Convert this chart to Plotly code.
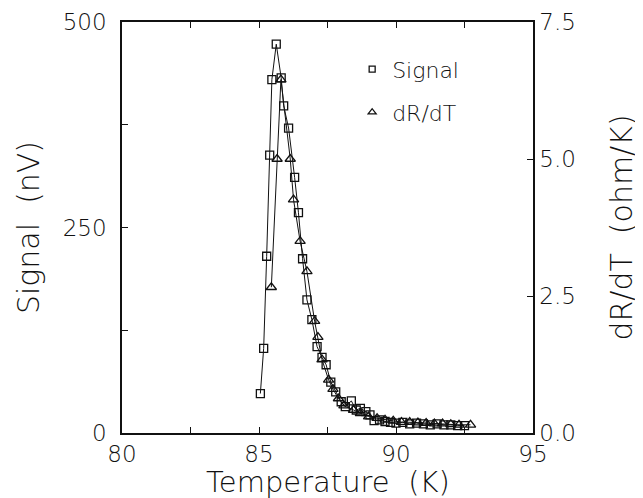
import plotly.graph_objects as go

# ---- data ----
temp_signal = [85.05, 85.17, 85.28, 85.39, 85.47, 85.63, 85.81, 85.90, 86.08, 86.30,
               86.44, 86.59, 86.75, 86.93, 87.12, 87.30, 87.45, 87.62, 87.80, 88.00,
               88.15, 88.37, 88.55, 88.70, 88.90, 89.05, 89.20, 89.40, 89.60, 89.80,
               90.00, 90.25, 90.50, 90.75, 91.00, 91.25, 91.50, 91.75, 92.00, 92.25, 92.50]
signal_nv = [48, 103, 215, 338, 430, 473, 432, 398, 371, 311,
             268, 212, 162, 138, 105, 92, 83, 62, 50, 38,
             32, 39, 28, 30, 26, 22, 15, 16, 14, 13,
             12, 13, 11, 12, 11, 10, 11, 10, 10, 9, 9]

temp_drdt = [85.45, 85.66, 85.80, 86.14, 86.26, 86.50, 86.75, 87.03, 87.15, 87.30,
             87.54, 87.70, 87.90, 88.10, 88.45, 88.70, 89.00, 89.31, 89.60, 89.90,
             90.20, 90.50, 90.80, 91.10, 91.40, 91.70, 92.00, 92.30, 92.72]
drdt = [2.66, 5.0, 6.45, 5.0, 4.26, 3.5, 2.95, 2.04, 1.75, 1.34,
        0.97, 0.80, 0.63, 0.50, 0.42, 0.36, 0.30, 0.27, 0.24, 0.22,
        0.20, 0.20, 0.19, 0.18, 0.17, 0.17, 0.16, 0.15, 0.15]

x_tickvals = [80, 82.5, 85, 87.5, 90, 92.5, 95]
x_ticktext = ["80", "", "85", "", "90", "", "95"]
y_tickvals = [0, 125, 250, 375, 500]
y_ticktext = ["0", "", "250", "", "500"]
y2_tickvals = [0, 2.5, 5.0, 7.5]
y2_ticktext = ["0.0", "2.5", "5.0", "7.5"]
x_title = "Temperature  (K)"
y_title = "Signal  (nV)"
y2_title = "dR/dT  (ohm/K)"

FONT = "DejaVu Sans"
W = 200
BLACK = "#111111"

fig = go.Figure()

fig.add_trace(go.Scatter(
    x=temp_signal, y=signal_nv, mode="lines+markers", name="Signal",
    line=dict(color=BLACK, width=1),
    marker=dict(symbol="square-open", size=8, color=BLACK, line=dict(width=1.3)),
    showlegend=False))
fig.add_trace(go.Scatter(
    x=temp_drdt, y=drdt, mode="lines+markers", name="dR/dT", yaxis="y2",
    line=dict(color=BLACK, width=1),
    marker=dict(symbol="triangle-up-open", size=9, color=BLACK, line=dict(width=1.3)),
    showlegend=False))

# legend-only entries (markers only, like the reference)
fig.add_trace(go.Scatter(
    x=[None], y=[None], mode="markers", name="Signal", legend="legend",
    marker=dict(symbol="square-open", size=6, color=BLACK, line=dict(width=1.3))))
fig.add_trace(go.Scatter(
    x=[None], y=[None], mode="markers", name="dR/dT", legend="legend2",
    marker=dict(symbol="triangle-up-open", size=7, color=BLACK, line=dict(width=1.3))))

axis_common = dict(
    showgrid=False, zeroline=False, showline=True, linecolor=BLACK, linewidth=1.5,
    ticks="inside", ticklen=6, tickcolor=BLACK, tickwidth=1.3, automargin=False,
    tickfont=dict(family=FONT, size=23, color=BLACK, weight=W),
)

# the page body adds an 8px offset, so the figure is sized to fit the window
fig.update_layout(
    width=635, height=490,
    paper_bgcolor="white", plot_bgcolor="white",
    margin=dict(l=114, r=110, t=14, b=65),
    font=dict(family=FONT, color=BLACK, weight=W),
    xaxis=dict(
        range=[80, 95], tickmode="array", tickvals=x_tickvals, ticktext=x_ticktext,
        mirror="ticks",
        **axis_common),
    yaxis=dict(
        range=[0, 500], tickmode="array", tickvals=y_tickvals, ticktext=y_ticktext,
        ticklabelstandoff=9,
        title=dict(text=y_title, font=dict(family=FONT, size=30, color=BLACK, weight=W),
                   standoff=14),
        **axis_common),
    yaxis2=dict(
        range=[0, 7.5], overlaying="y", side="right", anchor="x",
        tickmode="array", tickvals=y2_tickvals, ticktext=y2_ticktext,
        title=dict(text=y2_title, font=dict(family=FONT, size=30, color=BLACK, weight=W),
                   standoff=36),
        **axis_common),
    legend=dict(x=0.56, y=0.885, xanchor="left", yanchor="middle",
                bgcolor="rgba(0,0,0,0)", font=dict(family=FONT, size=22, color=BLACK, weight=W),
                itemwidth=30),
    legend2=dict(x=0.56, y=0.78, xanchor="left", yanchor="middle",
                 bgcolor="rgba(0,0,0,0)", font=dict(family=FONT, size=22, color=BLACK, weight=W),
                 itemwidth=30),
    annotations=[dict(
        text=x_title, xref="paper", yref="paper", x=0.5, y=0,
        xanchor="center", yanchor="middle", yshift=-49, showarrow=False,
        font=dict(family=FONT, size=29, color=BLACK, weight=W))],
)

fig.write_html("out.html")
